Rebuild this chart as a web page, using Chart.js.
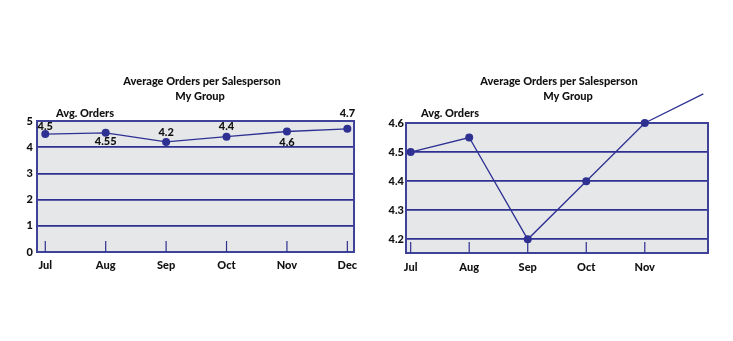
<!DOCTYPE html>
<html>
<head>
<meta charset="utf-8">
<script src="https://cdn.jsdelivr.net/npm/chart.js@4.4.1/dist/chart.umd.min.js"></script>
<style>
  body { margin: 0; background: #fff; }
  .box { position: absolute; top: 0; height: 341px; }
  #left { left: 0; width: 366px; }
  #right { left: 366px; width: 367px; }
</style>
</head>
<body>
<div class="box" id="left"><canvas id="chartLeft"></canvas></div>
<div class="box" id="right"><canvas id="chartRight"></canvas></div>
<script>
const months = ["Jul", "Aug", "Sep", "Oct", "Nov", "Dec"];
const avgOrders = [4.5, 4.55, 4.2, 4.4, 4.6, 4.7];
const leftTicks = [0, 1, 2, 3, 4, 5];
const rightTicks = [4.2, 4.3, 4.4, 4.5, 4.6];
const titleText = "Average Orders per Salesperson";
const subtitleText = "My Group";
const axisText = "Avg. Orders";

const BLUE = "#2e3192";
const FRAME = "#3e4299";
const FILL = "#e6e7e9";
const FONT = "Lato, 'Open Sans', sans-serif";
const WEIGHT = 900;

Chart.defaults.font.family = FONT;
Chart.defaults.color = "#111";

// plot background, frame and the little category ticks along the bottom
const framePlugin = {
  id: "frame",
  beforeDraw(chart) {
    const { ctx, chartArea: a } = chart;
    ctx.save();
    ctx.fillStyle = FILL;
    ctx.fillRect(a.left, a.top, a.right - a.left, a.bottom - a.top);
    ctx.restore();
  },
  beforeDatasetsDraw(chart, args, opts) {
    const { ctx, chartArea: a } = chart;
    const xs = chart.scales.x;
    ctx.save();
    ctx.strokeStyle = FRAME;
    ctx.lineWidth = 2;
    ctx.strokeRect(a.left, a.top, a.right - a.left, a.bottom - a.top);
    ctx.strokeStyle = BLUE;
    ctx.lineWidth = 1.2;
    for (let i = 0; i < opts.tickMarks; i++) {
      const x = xs.getPixelForValue(i);
      ctx.beginPath();
      ctx.moveTo(x, a.bottom - 11);
      ctx.lineTo(x, a.bottom);
      ctx.stroke();
    }
    ctx.restore();
  },
  afterDraw(chart, args, opts) {
    const ctx = chart.ctx;
    ctx.save();
    ctx.fillStyle = "#111";
    ctx.font = WEIGHT + " 11px " + FONT;
    ctx.textAlign = "center";
    ctx.textBaseline = "middle";
    ctx.fillText(titleText, opts.titleX, 81);
    ctx.fillText(subtitleText, opts.subX, 96);
    ctx.fillText(axisText, opts.axisX, 113);
    ctx.restore();
  }
};

// value labels next to the points
const valueLabels = {
  id: "valueLabels",
  afterDatasetsDraw(chart, args, opts) {
    if (!opts.offsets) return;
    const ctx = chart.ctx;
    const meta = chart.getDatasetMeta(0);
    ctx.save();
    ctx.fillStyle = "#111";
    ctx.font = WEIGHT + " 11px " + FONT;
    ctx.textAlign = "center";
    ctx.textBaseline = "middle";
    meta.data.forEach((pt, i) => {
      ctx.fillText(String(avgOrders[i]), pt.x, pt.y + opts.offsets[i]);
    });
    ctx.restore();
  }
};

function makeChart(id, cfg) {
  return new Chart(document.getElementById(id), {
    type: "line",
    data: {
      datasets: [{
        data: avgOrders.map((v, i) => ({ x: i, y: v })),
        borderColor: BLUE,
        borderWidth: 1.3,
        tension: 0,
        pointRadius: cfg.pointRadius,
        pointBackgroundColor: BLUE,
        pointBorderWidth: 0,
        clip: false
      }]
    },
    options: {
      maintainAspectRatio: false,
      animation: false,
      events: [],
      layout: { padding: cfg.padding },
      plugins: {
        legend: { display: false },
        tooltip: { enabled: false },
        frame: cfg.frame,
        valueLabels: { offsets: cfg.offsets }
      },
      scales: {
        x: {
          type: "linear",
          min: cfg.xMin,
          max: cfg.xMax,
          grid: { display: false, drawTicks: false },
          border: { display: false },
          afterBuildTicks: (s) => { s.ticks = months.map((m, i) => ({ value: i })); },
          afterFit: (s) => { s.height = cfg.xHeight; },
          ticks: {
            autoSkip: false,
            maxRotation: 0,
            padding: cfg.xPad,
            font: { size: 11, weight: WEIGHT },
            callback: (v) => (v < cfg.frame.tickMarks ? months[v] : "")
          }
        },
        y: {
          min: cfg.yMin,
          max: cfg.yMax,
          grid: { color: BLUE, lineWidth: 1.8, drawTicks: false },
          border: { display: false },
          afterBuildTicks: (s) => { s.ticks = cfg.yTicks.map((v) => ({ value: v })); },
          afterFit: (s) => { s.width = cfg.yWidth; },
          ticks: {
            padding: cfg.yPad,
            font: { size: 11, weight: WEIGHT },
            callback: (v) => String(v)
          }
        }
      }
    },
    plugins: [framePlugin, valueLabels]
  });
}

makeChart("chartLeft", {
  padding: { top: 121, right: 12, left: 0, bottom: 0 },
  xHeight: 89, yWidth: 37, yPad: 4, xPad: 7,
  xMin: -0.137, xMax: 5.11,
  yMin: 0, yMax: 5, yTicks: leftTicks,
  pointRadius: 4,
  offsets: [-8, 9, -10, -10, 11, -15],
  frame: { tickMarks: 6, titleX: 202, subX: 200, axisX: 85 }
});

makeChart("chartRight", {
  padding: { top: 123, right: 25, left: 0, bottom: 0 },
  xHeight: 88, yWidth: 40, yPad: 2, xPad: 8,
  xMin: -0.08, xMax: 5.08,
  yMin: 4.153, yMax: 4.6, yTicks: rightTicks,
  pointRadius: [4, 4, 4, 4, 4, 0],
  offsets: null,
  frame: { tickMarks: 5, titleX: 193, subX: 202, axisX: 84 }
});
</script>
</body>
</html>
